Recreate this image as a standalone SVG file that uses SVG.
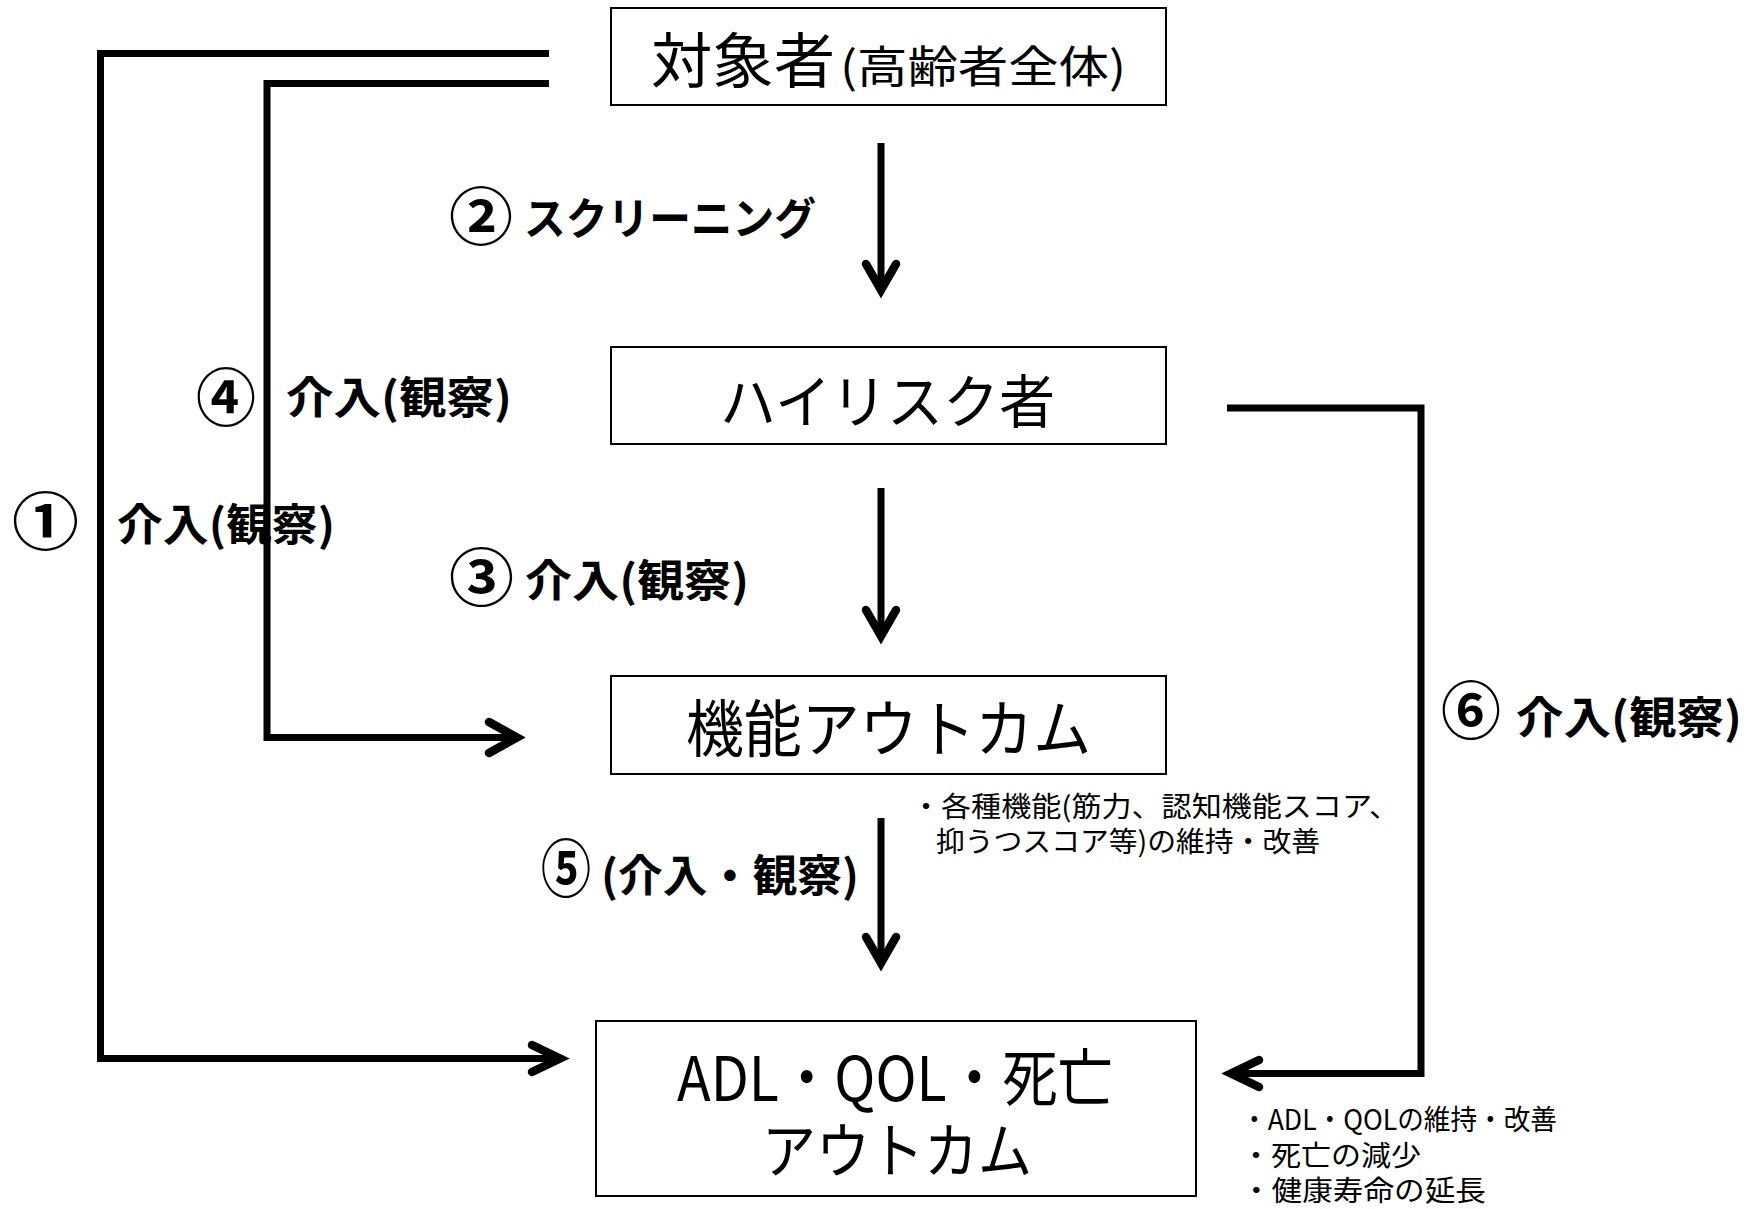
<svg xmlns="http://www.w3.org/2000/svg" width="1756" height="1209" viewBox="0 0 1756 1209">
<style>
.box{fill:#fff;stroke:#000;stroke-width:2}
text{font-family:"Noto Sans CJK JP","Noto Sans",sans-serif;fill:#000}
.lbl{font-size:44px;font-weight:bold}
.num{font-size:62px;font-weight:bold}
.sm{font-size:28px}
.ln{fill:none;stroke:#000;stroke-width:7;stroke-linejoin:miter;stroke-linecap:butt}
.hd{fill:none;stroke:#000;stroke-width:8.5;stroke-linecap:round;stroke-linejoin:miter}
</style>
<rect width="1756" height="1209" fill="#fff"/>
<g id="connectors">
  <path class="ln" d="M549 53.5 H100.5 V1058.5 H556"/>
  <polyline class="hd" points="532,1045 560,1058.5 532,1072"/>
  <path class="ln" d="M549 83.5 H267 V737.5 H514"/>
  <polyline class="hd" points="489,722 517,737.5 489,753"/>
  <path class="ln" d="M1227 408 H1421 V1073.5 H1233"/>
  <polyline class="hd" points="1259,1060 1231,1073.5 1259,1087"/>
  <path class="ln" d="M881 143 V286"/>
  <polyline class="hd" points="866,264 881,290 896,264"/>
  <path class="ln" d="M881 488 V632"/>
  <polyline class="hd" points="866,610 881,636 896,610"/>
  <path class="ln" d="M881 818 V962"/>
  <polyline class="hd" points="866,937 881,963 896,937"/>
</g>
<g id="n1">
  <rect class="box" x="611" y="8" width="555" height="97"/>
  <text x="651" y="83" font-size="60" textLength="184" lengthAdjust="spacingAndGlyphs">対象者</text>
  <text x="840" y="83" font-size="44" textLength="286" lengthAdjust="spacingAndGlyphs">(高齢者全体)</text>
</g>
<g id="n2">
  <rect class="box" x="611" y="347" width="555" height="97"/>
  <text x="720" y="423" font-size="58" textLength="335" lengthAdjust="spacingAndGlyphs">ハイリスク者</text>
</g>
<g id="n3">
  <rect class="box" x="611" y="676" width="555" height="98"/>
  <text x="686" y="752" font-size="62" textLength="405" lengthAdjust="spacingAndGlyphs">機能アウトカム</text>
</g>
<g id="n4">
  <rect class="box" x="596" y="1021" width="600" height="175"/>
  <text x="677" y="1101" font-size="62" textLength="436" lengthAdjust="spacingAndGlyphs">ADL・QOL・死亡</text>
  <text x="762" y="1173" font-size="60" textLength="270" lengthAdjust="spacingAndGlyphs">アウトカム</text>
</g>
<g id="labels">
  <text class="num" x="12" y="545" textLength="67" lengthAdjust="spacingAndGlyphs">①</text>
  <text class="lbl" x="117" y="541" textLength="218" lengthAdjust="spacingAndGlyphs">介入(観察)</text>
  <text class="num" x="449" y="240" textLength="64" lengthAdjust="spacingAndGlyphs">②</text>
  <text class="lbl" x="524" y="235" font-size="42" textLength="292" lengthAdjust="spacingAndGlyphs">スクリーニング</text>
  <text class="num" x="449" y="601" textLength="65" lengthAdjust="spacingAndGlyphs">③</text>
  <text class="lbl" x="525" y="597" textLength="224" lengthAdjust="spacingAndGlyphs">介入(観察)</text>
  <text class="num" x="196" y="421" textLength="60" lengthAdjust="spacingAndGlyphs">④</text>
  <text class="lbl" x="286" y="414" textLength="226" lengthAdjust="spacingAndGlyphs">介入(観察)</text>
  <text class="num" x="541" y="892" font-size="50" textLength="50" lengthAdjust="spacingAndGlyphs">⑤</text>
  <text class="lbl" x="601" y="892" textLength="258" lengthAdjust="spacingAndGlyphs">(介入・観察)</text>
  <text class="num" x="1441" y="734" textLength="60" lengthAdjust="spacingAndGlyphs">⑥</text>
  <text class="lbl" x="1516" y="734" textLength="226" lengthAdjust="spacingAndGlyphs">介入(観察)</text>
  <text class="sm" x="911" y="817" textLength="488" lengthAdjust="spacingAndGlyphs">・各種機能(筋力、認知機能スコア、</text>
  <text class="sm" x="936" y="852" textLength="384" lengthAdjust="spacingAndGlyphs">抑うつスコア等)の維持・改善</text>
  <text class="sm" x="1241" y="1130" textLength="316" lengthAdjust="spacingAndGlyphs">・ADL・QOLの維持・改善</text>
  <text class="sm" x="1241" y="1166" textLength="180" lengthAdjust="spacingAndGlyphs">・死亡の減少</text>
  <text class="sm" x="1241" y="1201" textLength="245" lengthAdjust="spacingAndGlyphs">・健康寿命の延長</text>
</g>
</svg>
